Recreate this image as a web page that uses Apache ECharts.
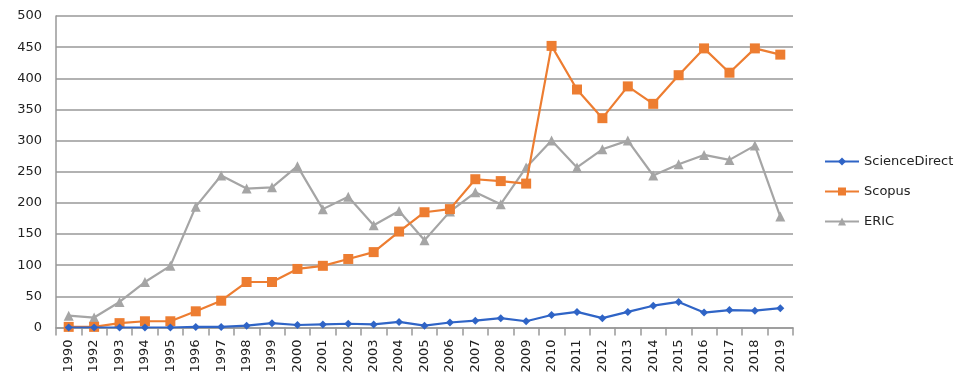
<!DOCTYPE html>
<html>
<head>
<meta charset="utf-8">
<script src="https://cdn.jsdelivr.net/npm/echarts@6/dist/echarts.min.js"></script>
<style>
html,body{margin:0;padding:0;background:#fff;}
#c{width:957px;height:387px;}
</style>
</head>
<body>
<div id="c"></div>
<script>
const years = ['1990','1992','1993','1994','1995','1996','1997','1998','1999','2000','2001','2002','2003','2004','2005','2006','2007','2008','2009','2010','2011','2012','2013','2014','2015','2016','2017','2018','2019'];
const scienceDirect = [0,0,0,0,0,1,1,3,7,4,5,6,5,9,3,8,11,15,10,20,25,15,25,35,41,24,28,27,31];
const scopus = [1,1,7,10,10,26,43,73,73,94,99,110,121,154,185,190,238,235,231,452,382,336,387,359,405,448,409,448,438];
const eric = [19,16,41,73,99,194,244,223,225,259,190,210,164,187,140,186,217,198,257,300,257,286,300,244,262,277,269,292,178];
const seriesNames = ['ScienceDirect','Scopus','ERIC'];
const colors = ['#2F64C6','#ED7D31','#A5A5A5'];

const chart = echarts.init(document.getElementById('c'));
const font = 'DejaVu Sans';
chart.setOption({
  animation: false,
  color: colors,
  textStyle: {fontFamily: font},
  grid: {left: 56, right: 164, top: 16, bottom: 59.5, containLabel: false},
  legend: {
    orient: 'vertical',
    left: 819,
    top: 150,
    itemWidth: 34,
    itemHeight: 10,
    itemGap: 17,
    data: seriesNames,
    textStyle: {fontFamily: font, fontSize: 13, color: '#222'}
  },
  xAxis: {
    type: 'category',
    data: years,
    boundaryGap: true,
    axisLine: {lineStyle: {color: '#999', width: 1.5}},
    axisTick: {show: true, length: 8, lineStyle: {color: '#999', width: 1.5}},
    axisLabel: {rotate: 90, margin: 12, fontFamily: font, fontSize: 13, color: '#222', interval: 0}
  },
  yAxis: {
    type: 'value',
    min: 0, max: 500, interval: 50,
    axisLine: {show: true, lineStyle: {color: '#999', width: 1.5}},
    axisTick: {show: false},
    splitLine: {lineStyle: {color: '#999', width: 1.5}},
    axisLabel: {fontFamily: font, fontSize: 13, color: '#222', margin: 14}
  },
  series: [
    {name: seriesNames[0], type: 'line', data: scienceDirect, symbol: 'diamond', symbolSize: 8, lineStyle: {width: 2.2}, itemStyle: {color: colors[0]}, z: 4},
    {name: seriesNames[1], type: 'line', data: scopus, symbol: 'rect', symbolSize: 10, lineStyle: {width: 2.2}, itemStyle: {color: colors[1]}, z: 3},
    {name: seriesNames[2], type: 'line', data: eric, symbol: 'triangle', symbolSize: 10, lineStyle: {width: 2.2}, itemStyle: {color: colors[2]}, z: 2}
  ]
});
</script>
</body>
</html>
